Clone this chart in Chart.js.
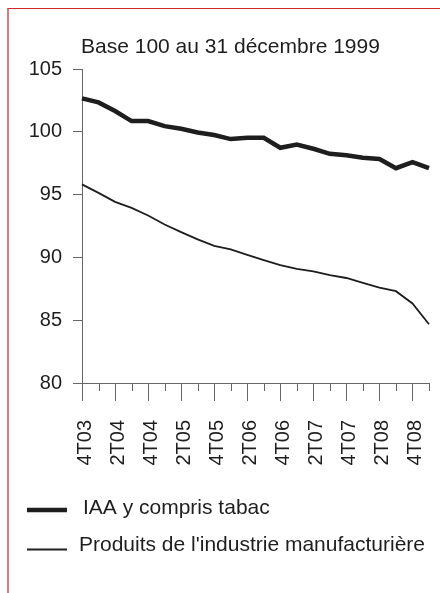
<!DOCTYPE html>
<html>
<head>
<meta charset="utf-8">
<script src="https://cdn.jsdelivr.net/npm/chart.js@4/dist/chart.umd.min.js"></script>
<style>
  html, body { margin: 0; padding: 0; background: #fff; }
  body { width: 440px; height: 593px; overflow: hidden; position: relative; }
  #frame { position: absolute; left: 7px; top: 8px; width: 460px; height: 620px;
           border-top: 1px solid #cc2b2b; border-left: 2px solid #e07a7a; }
  #wrap { position: absolute; left: 0; top: 0; width: 440px; height: 593px; }
</style>
</head>
<body>
<div id="frame"></div>
<div id="wrap"><canvas id="c" width="440" height="593"></canvas></div>
<script>
const quarters = ["4T03","1T04","2T04","3T04","4T04","1T05","2T05","3T05","4T05","1T06","2T06","3T06","4T06","1T07","2T07","3T07","4T07","1T08","2T08","3T08","4T08","1T09"];
const iaaValues = [102.66,102.34,101.65,100.85,100.85,100.45,100.24,99.95,99.74,99.42,99.52,99.52,98.73,98.99,98.65,98.25,98.14,97.93,97.83,97.10,97.58,97.10];
const manufValues = [95.81,95.14,94.42,93.94,93.34,92.62,92.01,91.43,90.92,90.63,90.20,89.78,89.38,89.08,88.88,88.58,88.36,87.97,87.60,87.31,86.33,84.68];
const seriesNames = ["IAA y compris tabac","Produits de l'industrie manufacturière"];
const titleText = "Base 100 au 31 décembre 1999";
const yTicks = [80,85,90,95,100,105];

const FONT = "'Liberation Sans', Arial, sans-serif";
const INK = '#1e1e1e';
const AXIS = '#666666';

const decor = {
  id: 'decor',
  afterDraw(chart) {
    const ctx = chart.ctx;
    const x = chart.scales.x;
    ctx.save();
    ctx.strokeStyle = AXIS;
    ctx.lineWidth = 1;
    for (let i = 0; i < quarters.length; i++) {
      const px = Math.round(x.getPixelForTick(i)) + 0.5;
      const len = (i % 2 === 0) ? 18 : 8;
      ctx.beginPath();
      ctx.moveTo(px, x.top);
      ctx.lineTo(px, x.top + len);
      ctx.stroke();
    }
    ctx.fillStyle = INK;
    ctx.font = '21px ' + FONT;
    ctx.textBaseline = 'alphabetic';
    ctx.textAlign = 'left';
    ctx.fillText(titleText, 81, 53);
    const ds = chart.data.datasets;
    const rows = [{y: 510, ty: 513.5, tx: 83}, {y: 549.5, ty: 550.5, tx: 79}];
    rows.forEach((r, i) => {
      ctx.strokeStyle = ds[i].borderColor;
      ctx.lineWidth = ds[i].borderWidth;
      ctx.beginPath();
      ctx.moveTo(27, r.y);
      ctx.lineTo(67, r.y);
      ctx.stroke();
      ctx.fillStyle = INK;
      ctx.fillText(ds[i].label, r.tx, r.ty);
    });
    ctx.restore();
  }
};

new Chart(document.getElementById('c'), {
  type: 'line',
  data: {
    labels: quarters,
    datasets: [
      { label: seriesNames[0], data: iaaValues, borderColor: INK, borderWidth: 4.5, pointRadius: 0, tension: 0, fill: false },
      { label: seriesNames[1], data: manufValues, borderColor: INK, borderWidth: 1.8, pointRadius: 0, tension: 0, fill: false }
    ]
  },
  options: {
    responsive: false,
    animation: false,
    devicePixelRatio: 1,
    layout: { padding: { left: 0, right: 11, top: 69, bottom: 0 } },
    plugins: { legend: { display: false }, title: { display: false }, tooltip: { enabled: false } },
    scales: {
      x: {
        type: 'category',
        offset: false,
        afterFit(s) { s.height = 210; s.paddingLeft = 0; s.paddingRight = 0; },
        grid: { display: true, drawOnChartArea: false, drawTicks: false },
        border: { display: true, color: AXIS, width: 1 },
        ticks: {
          autoSkip: false, maxRotation: 90, minRotation: 90, padding: 37, labelOffset: 3,
          color: INK, font: { family: FONT, size: 20 },
          callback: (v, i) => (i % 2 === 0 ? quarters[i] : '')
        }
      },
      y: {
        min: yTicks[0], max: yTicks[yTicks.length - 1],
        afterFit(s) { s.width = 82; s.paddingTop = 0; s.paddingBottom = 0; },
        afterBuildTicks(s) { s.ticks = yTicks.map(v => ({ value: v })); },
        grid: { display: true, drawOnChartArea: false, drawTicks: true, tickLength: 9, color: AXIS },
        border: { display: true, color: AXIS, width: 1 },
        ticks: { padding: 11, color: INK, font: { family: FONT, size: 20 } }
      }
    }
  },
  plugins: [decor]
});
</script>
</body>
</html>
